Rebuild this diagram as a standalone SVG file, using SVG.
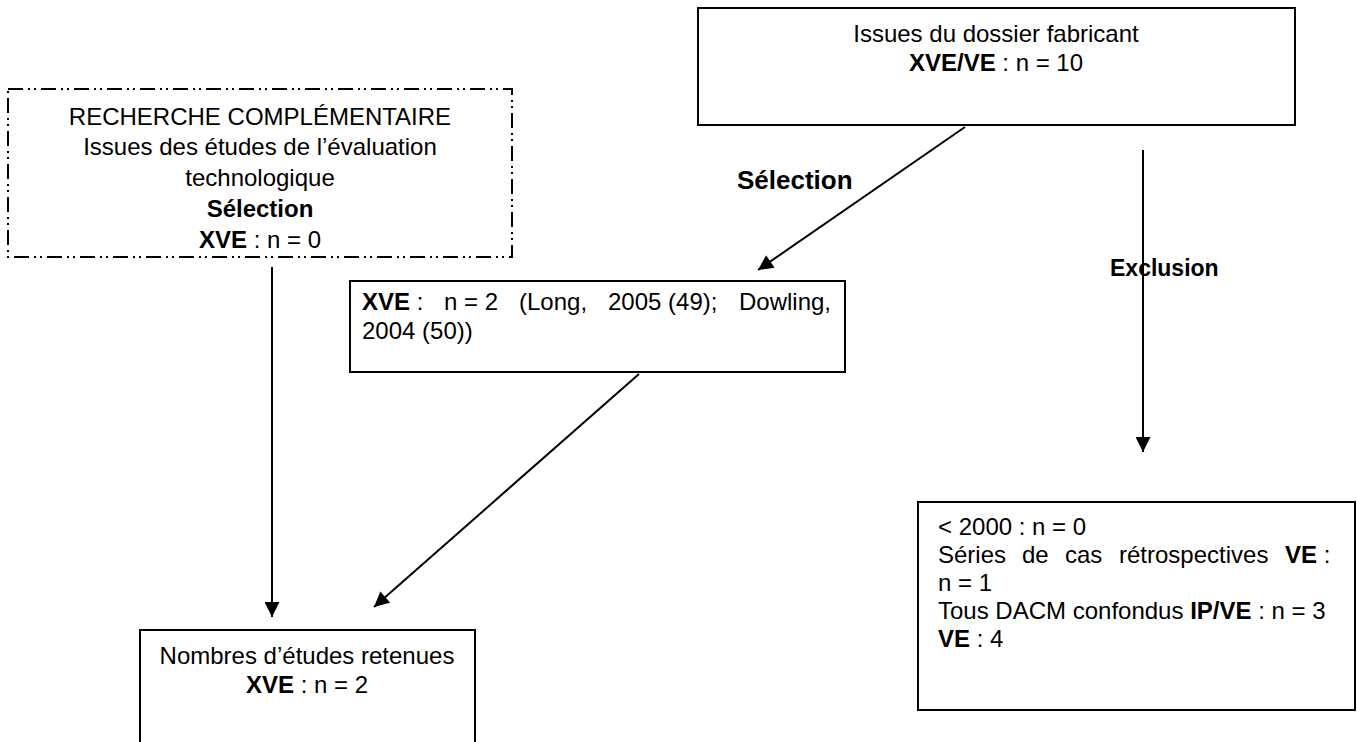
<svg xmlns="http://www.w3.org/2000/svg" width="1357" height="742" viewBox="0 0 1357 742">
  <style>
    text { font-family: "Liberation Sans", Arial, sans-serif; font-size: 24px; fill: #000; }
    .b { font-weight: bold; }
    .box { fill: #fff; stroke: #000; stroke-width: 2; }
    .dashbox { fill: #fff; stroke: #000; stroke-width: 2; stroke-dasharray: 15 5 2 4 2 5; }
    .conn { stroke: #000; stroke-width: 2; fill: none; marker-end: url(#arrow); }
    .mid { text-anchor: middle; }
  </style>
  <defs>
    <marker id="arrow" viewBox="0 0 10 10" refX="10" refY="5" markerWidth="8" markerHeight="7.5" markerUnits="strokeWidth" orient="auto">
      <path d="M0,0 L10,5 L0,10 z" fill="#000"/>
    </marker>
  </defs>

  <rect width="1357" height="742" fill="#fff"/>

  <!-- manufacturer file -->
  <g id="dossier-fabricant">
    <rect class="box" x="698" y="8" width="597" height="117"/>
    <text class="mid" x="996" y="42">Issues du dossier fabricant</text>
    <text class="mid" x="996" y="71"><tspan class="b">XVE/VE</tspan> : n = 10</text>
  </g>

  <!-- complementary search -->
  <g id="recherche-complementaire">
    <rect class="dashbox" x="8" y="89" width="504" height="168"/>
    <text class="mid" x="260" y="125">RECHERCHE COMPLÉMENTAIRE</text>
    <text class="mid" x="260" y="155">Issues des études de l’évaluation</text>
    <text class="mid" x="260" y="186">technologique</text>
    <text class="mid b" x="260" y="217">Sélection</text>
    <text class="mid" x="260" y="248"><tspan class="b">XVE</tspan> : n = 0</text>
  </g>

  <!-- selected studies (first line justified) -->
  <g id="selection-xve">
    <rect class="box" x="350" y="281" width="495" height="91"/>
    <text y="310"><tspan x="362" class="b">XVE</tspan><tspan> :</tspan><tspan x="444">n = 2</tspan><tspan x="519">(Long,</tspan><tspan x="608">2005 (49);</tspan><tspan x="739">Dowling,</tspan></text>
    <text x="362" y="339">2004 (50))</text>
  </g>

  <!-- retained studies -->
  <g id="etudes-retenues">
    <rect class="box" x="140" y="630" width="335" height="130"/>
    <text class="mid" x="307" y="664">Nombres d’études retenues</text>
    <text class="mid" x="307" y="693"><tspan class="b">XVE</tspan> : n = 2</text>
  </g>

  <!-- exclusions (second line justified) -->
  <g id="exclusions">
    <rect class="box" x="918" y="502" width="437" height="208"/>
    <text x="938" y="535">&lt; 2000 : n = 0</text>
    <text y="563"><tspan x="938">Séries</tspan><tspan x="1022">de</tspan><tspan x="1065">cas</tspan><tspan x="1119">rétrospectives</tspan><tspan x="1285" class="b">VE</tspan><tspan> :</tspan></text>
    <text x="938" y="591">n = 1</text>
    <text x="938" y="619">Tous DACM confondus <tspan class="b">IP/VE</tspan> : n = 3</text>
    <text x="938" y="647"><tspan class="b">VE</tspan> : 4</text>
  </g>

  <!-- edge labels -->
  <g id="labels">
    <text class="b" x="737" y="189" style="font-size:26px">Sélection</text>
    <text class="b" x="1110" y="276" style="font-size:23px">Exclusion</text>
  </g>

  <g id="connectors">
    <line class="conn" x1="272" y1="267" x2="272" y2="617"/>
    <line class="conn" x1="639" y1="374" x2="374" y2="607"/>
    <line class="conn" x1="965" y1="127" x2="758" y2="270"/>
    <line class="conn" x1="1143" y1="150" x2="1143" y2="452"/>
  </g>
</svg>
